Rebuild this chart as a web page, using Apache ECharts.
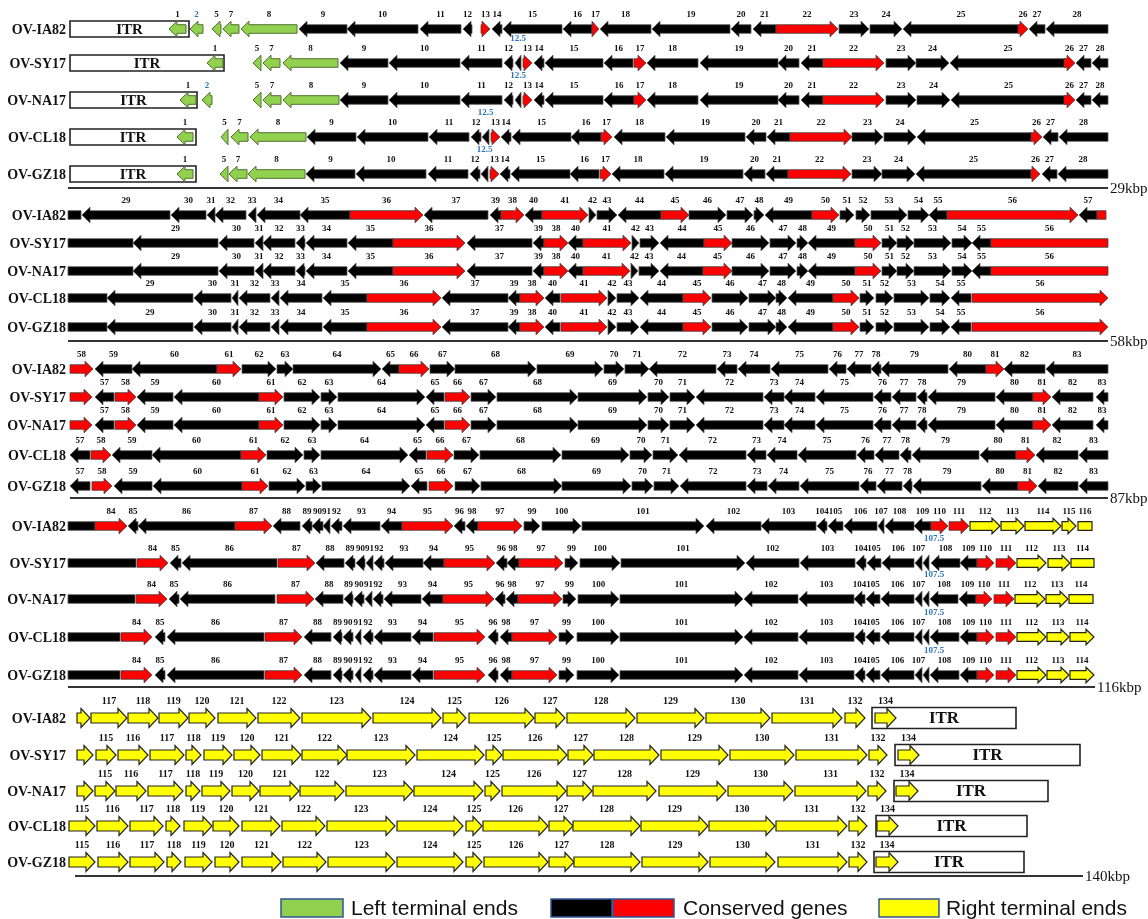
<!DOCTYPE html>
<html>
<head>
<meta charset="utf-8">
<script src="https://cdn.jsdelivr.net/npm/echarts@6/dist/echarts.min.js"></script>
<style>
  html, body { margin: 0; padding: 0; background: #fff; }
  #chart { width: 1148px; height: 919px; }
</style>
</head>
<body>
<div id="chart"></div>
<script>
"use strict";
// genome names and scale marks
const names = ['OV-IA82', 'OV-SY17', 'OV-NA17', 'OV-CL18', 'OV-GZ18'];
const kbpTicks = ['29kbp', '58kbp', '87kbp', '116kbp', '140kbp'];

// gene = [label, start, end, kind]  kind: colour g/k/r/y + L/R (strand) or B (partial, no head)
// block 1 (0-29 kbp)
const b1_IA82 = [['1',169,186,'gL'],['2',190,203,'gL'],['5',212,221,'gL'],['7',223,239,'gL'],['8',241,297,'gL'],
  ['9',299,347,'kL'],['10',347,418,'kL'],['11',420,461,'kL'],['12',463,472,'kL'],['13',481,490,'rR'],['14',492,502,'kL'],
  ['15',503,562,'kL'],['16',563,592,'kL'],['17',592,599,'rR'],['18',600,651,'kL'],['19',652,730,'kL'],['20',731,751,'kL'],
  ['21',753,776,'kL'],['22',776,838,'rR'],['23',839,869,'kR'],['24',870,902,'kR'],['25',903,1019,'kL'],['26',1018,1028,'rR'],
  ['27',1029,1045,'kL'],['28',1046,1108,'kL']];
const b1_SY17 = [['1',207,223,'gL'],['5',253,261,'gL'],['7',263,280,'gL'],['8',283,338,'gL'],['9',340,388,'kL'],
  ['10',389,460,'kL'],['11',461,502,'kL'],['12',504,513,'kL'],['12.5',515,521,'kL'],['13',523,532,'rR'],['14',534,544,'kL'],
  ['15',545,603,'kL'],['16',604,633,'kL'],['17',634,646,'rR'],['18',647,698,'kL'],['19',700,778,'kL'],['20',778,799,'kL'],
  ['21',801,823,'kL'],['22',823,884,'rR'],['23',886,916,'kR'],['24',916,949,'kR'],['25',950,1066,'kL'],['26',1064,1075,'rR'],
  ['27',1076,1091,'kL'],['28',1092,1108,'kL']];
const b1_NA17 = [['1',180,196,'gL'],['2',202,212,'gL'],['5',253,261,'gL'],['7',263,281,'gL'],['8',283,339,'gL'],
  ['9',340,388,'kL'],['10',389,460,'kL'],['11',461,502,'kL'],['12',504,513,'kL'],['12.5',515,521,'kL'],['13',523,532,'rR'],
  ['14',534,544,'kL'],['15',545,603,'kL'],['16',604,634,'kL'],['17',634,646,'rR'],['18',647,698,'kL'],['19',700,778,'kL'],
  ['20',778,799,'kL'],['21',801,823,'kL'],['22',823,884,'rR'],['23',886,916,'kR'],['24',917,950,'kR'],['25',951,1066,'kL'],
  ['26',1064,1075,'rR'],['27',1076,1091,'kL'],['28',1092,1108,'kL']];
const b1_CL18 = [['1',177,193,'gL'],['5',221,228,'gL'],['7',231,248,'gL'],['8',250,306,'gL'],['9',307,356,'kL'],
  ['10',357,428,'kL'],['11',429,469,'kL'],['12',471,481,'kL'],['12.5',482,489,'kL'],['13',491,500,'rR'],['14',501,511,'kL'],
  ['15',512,571,'kL'],['16',571,601,'kL'],['17',601,612,'rR'],['18',614,665,'kL'],['19',666,745,'kL'],['20',746,766,'kL'],
  ['21',767,790,'kL'],['22',790,852,'rR'],['23',852,883,'kR'],['24',884,916,'kR'],['25',917,1032,'kL'],['26',1031,1042,'rR'],
  ['27',1043,1058,'kL'],['28',1059,1108,'kL']];
const b1_GZ18 = [['1',177,193,'gL'],['5',220,228,'gL'],['7',229,247,'gL'],['8',248,305,'gL'],['9',306,355,'kL'],
  ['10',356,426,'kL'],['11',428,468,'kL'],['12',470,480,'kL'],['12.5',481,488,'kL'],['13',490,499,'rR'],['14',500,510,'kL'],
  ['15',511,570,'kL'],['16',570,599,'kL'],['17',600,611,'rR'],['18',612,664,'kL'],['19',665,743,'kL'],['20',744,765,'kL'],
  ['21',766,788,'kL'],['22',788,851,'rR'],['23',852,882,'kR'],['24',882,915,'kR'],['25',916,1031,'kL'],['26',1031,1040,'rR'],
  ['27',1042,1057,'kL'],['28',1058,1108,'kL']];

// block 2 (29-58 kbp)
const b2_IA82 = [['',68,81,'kB'],['29',82,170,'kL'],['30',171,206,'kL'],['31',207,215,'kL'],['32',215,246,'kL'],['33',248,256,'kL'],
  ['34',257,300,'kL'],['35',300,350,'kL'],['36',350,423,'rR'],['37',424,488,'kL'],['39',490,501,'kL'],['38',501,524,'rR'],
  ['40',525,542,'kL'],['41',542,588,'rR'],['42',589,596,'kR'],['43',597,617,'kR'],['44',618,661,'kL'],['45',661,689,'rR'],
  ['46',689,726,'kR'],['47',727,753,'kR'],['48',754,764,'kR'],['49',765,812,'kL'],['50',812,839,'rR'],['51',840,854,'kR'],
  ['52',856,870,'kR'],['53',871,907,'kR'],['54',908,929,'kR'],['55',929,947,'kL'],['56',947,1078,'rR'],['57',1079,1097,'kL'],
  ['',1097,1106,'rB']];
const b2_SY17 = [['',68,133,'kB'],['29',133,218,'kL'],['30',219,254,'kL'],['31',255,263,'kL'],['32',263,295,'kL'],['33',296,305,'kL'],
  ['34',306,347,'kL'],['35',348,393,'kL'],['36',393,465,'rR'],['37',467,532,'kL'],['39',533,544,'kL'],['38',544,568,'rR'],
  ['40',568,583,'kL'],['41',583,631,'rR'],['42',632,639,'kR'],['43',640,659,'kR'],['44',660,704,'kL'],['45',704,732,'rR'],
  ['46',732,769,'kR'],['47',770,796,'kR'],['48',797,808,'kR'],['49',808,855,'kL'],['50',855,881,'rR'],['51',882,897,'kR'],
  ['52',897,914,'kR'],['53',914,951,'kR'],['54',952,972,'kR'],['55',972,991,'kL'],['56',991,1108,'rB']];
const b2_NA17 = [['',68,133,'kB'],['29',133,218,'kL'],['30',219,254,'kL'],['31',255,263,'kL'],['32',263,295,'kL'],['33',296,305,'kL'],
  ['34',306,347,'kL'],['35',348,393,'kL'],['36',393,465,'rR'],['37',467,532,'kL'],['39',533,544,'kL'],['38',544,568,'rR'],
  ['40',568,583,'kL'],['41',583,630,'rR'],['42',631,638,'kR'],['43',639,659,'kR'],['44',660,703,'kL'],['45',703,732,'rR'],
  ['46',732,769,'kR'],['47',770,796,'kR'],['48',797,808,'kR'],['49',808,855,'kL'],['50',855,881,'rR'],['51',882,897,'kR'],
  ['52',897,914,'kR'],['53',914,951,'kR'],['54',952,972,'kR'],['55',972,991,'kL'],['56',991,1108,'rB']];
const b2_CL18 = [['',68,107,'kB'],['29',107,193,'kL'],['30',194,231,'kL'],['31',232,238,'kL'],['32',239,270,'kL'],['33',271,279,'kL'],
  ['34',280,322,'kL'],['35',323,367,'kL'],['36',367,441,'rR'],['37',442,508,'kL'],['39',508,520,'kL'],['38',520,544,'rR'],
  ['40',545,560,'kL'],['41',561,607,'rR'],['42',608,616,'kR'],['43',617,639,'kR'],['44',640,683,'kL'],['45',683,711,'rR'],
  ['46',712,748,'kR'],['47',749,776,'kR'],['48',776,787,'kR'],['49',788,833,'kL'],['50',833,859,'rR'],['51',860,874,'kR'],
  ['52',876,893,'kR'],['53',894,929,'kR'],['54',930,950,'kR'],['55',951,971,'kL'],['56',972,1108,'rR']];
const b2_GZ18 = [['',68,107,'kB'],['29',107,193,'kL'],['30',194,231,'kL'],['31',232,238,'kL'],['32',239,270,'kL'],['33',271,279,'kL'],
  ['34',280,322,'kL'],['35',323,367,'kL'],['36',367,441,'rR'],['37',442,508,'kL'],['39',508,520,'kL'],['38',520,544,'rR'],
  ['40',545,560,'kL'],['41',561,607,'rR'],['42',608,616,'kR'],['43',617,639,'kR'],['44',640,683,'kL'],['45',683,711,'rR'],
  ['46',712,748,'kR'],['47',749,776,'kR'],['48',776,787,'kR'],['49',788,833,'kL'],['50',833,859,'rR'],['51',860,874,'kR'],
  ['52',876,893,'kR'],['53',894,929,'kR'],['54',930,950,'kR'],['55',951,971,'kL'],['56',972,1108,'rR']];

// block 3 (58-87 kbp)
const b3_IA82 = [['58',70,93,'rR'],['59',95,132,'kL'],['60',132,217,'kL'],['61',217,241,'rR'],['62',242,276,'kR'],['63',277,293,'kR'],
  ['64',293,381,'kR'],['65',382,399,'kL'],['66',399,429,'rR'],['67',430,455,'kR'],['68',455,536,'kR'],['69',537,603,'kR'],
  ['70',604,624,'kR'],['71',625,649,'kR'],['72',649,716,'kL'],['73',717,737,'kL'],['74',738,770,'kL'],['75',771,828,'kL'],
  ['76',829,846,'kL'],['77',847,871,'kL'],['78',871,881,'kL'],['79',881,948,'kL'],['80',949,986,'kL'],['81',986,1004,'rR'],
  ['82',1004,1045,'kL'],['83',1046,1108,'kL']];
const b3_SY17 = [['',70,92,'rR'],['57',95,114,'kL'],['58',115,136,'rR'],['59',137,173,'kL'],['60',174,259,'kL'],['61',259,283,'rR'],
  ['62',284,320,'kR'],['63',321,337,'kR'],['64',338,425,'kR'],['65',426,444,'kL'],['66',445,470,'rR'],['67',471,496,'kR'],
  ['68',497,578,'kR'],['69',578,647,'kR'],['70',648,669,'kR'],['71',670,695,'kR'],['72',696,763,'kL'],['73',764,784,'kL'],
  ['74',784,815,'kL'],['75',816,873,'kL'],['76',874,891,'kL'],['77',892,916,'kL'],['78',917,927,'kL'],['79',928,995,'kL'],
  ['80',996,1033,'kL'],['81',1033,1051,'rR'],['82',1052,1093,'kL'],['83',1096,1108,'kL']];
const b3_NA17 = [['',70,92,'rR'],['57',95,114,'kL'],['58',115,136,'rR'],['59',137,173,'kL'],['60',174,259,'kL'],['61',259,283,'rR'],
  ['62',284,320,'kR'],['63',321,337,'kR'],['64',338,425,'kR'],['65',426,444,'kL'],['66',445,470,'rR'],['67',471,496,'kR'],
  ['68',497,578,'kR'],['69',578,647,'kR'],['70',648,669,'kR'],['71',670,695,'kR'],['72',696,763,'kL'],['73',764,784,'kL'],
  ['74',784,815,'kL'],['75',816,873,'kL'],['76',874,891,'kL'],['77',892,916,'kL'],['78',917,927,'kL'],['79',928,995,'kL'],
  ['80',996,1033,'kL'],['81',1033,1051,'rR'],['82',1052,1093,'kL'],['83',1096,1108,'kL']];
const b3_CL18 = [['57',70,90,'kL'],['58',91,111,'rR'],['59',112,152,'kL'],['60',152,241,'kL'],['61',241,266,'rR'],['62',267,303,'kR'],
  ['63',304,320,'kR'],['64',321,408,'kR'],['65',409,426,'kL'],['66',427,453,'rR'],['67',454,479,'kR'],['68',480,561,'kR'],
  ['69',562,629,'kR'],['70',630,652,'kR'],['71',653,678,'kR'],['72',679,746,'kL'],['73',747,766,'kL'],['74',767,797,'kL'],
  ['75',798,856,'kL'],['76',857,874,'kL'],['77',875,899,'kL'],['78',900,911,'kL'],['79',912,979,'kL'],['80',980,1016,'kL'],
  ['81',1016,1035,'rR'],['82',1036,1078,'kL'],['83',1079,1108,'kL']];
const b3_GZ18 = [['57',70,90,'kL'],['58',92,112,'rR'],['59',114,152,'kL'],['60',153,242,'kL'],['61',242,268,'rR'],['62',269,305,'kR'],
  ['63',306,321,'kR'],['64',322,410,'kR'],['65',411,427,'kL'],['66',429,453,'rR'],['67',455,480,'kR'],['68',481,562,'kR'],
  ['69',562,631,'kR'],['70',632,653,'kR'],['71',654,679,'kR'],['72',680,746,'kL'],['73',747,767,'kL'],['74',768,799,'kL'],
  ['75',800,859,'kL'],['76',860,876,'kL'],['77',877,902,'kL'],['78',903,912,'kL'],['79',913,981,'kL'],['80',982,1018,'kL'],
  ['81',1018,1037,'rR'],['82',1038,1078,'kL'],['83',1079,1108,'kL']];

// block 4 (87-116 kbp)
const b4_IA82 = [['',68,95,'kB'],['84',95,127,'rR'],['85',128,138,'kL'],['86',138,235,'kL'],['87',235,272,'rR'],['88',273,300,'kL'],
  ['89',302,312,'kL'],['90',312,323,'kL'],['91',323,330,'kL'],['92',331,342,'kL'],['93',343,380,'kL'],['94',381,402,'kL'],
  ['95',402,453,'rR'],['96',454,465,'kL'],['98',466,478,'kL'],['97',478,522,'rR'],['99',524,540,'kR'],['100',542,581,'kR'],
  ['101',582,704,'kR'],['102',706,761,'kL'],['103',761,816,'kL'],['104',817,827,'kL'],['105',828,843,'kL'],['106',844,877,'kL'],
  ['107',878,884,'kL'],['108',885,914,'kL'],['109',914,931,'kL'],['110',931,948,'rR'],['111',949,969,'rR'],['112',970,1000,'yR'],
  ['113',1001,1024,'yR'],['114',1025,1061,'yR'],['115',1062,1076,'yR'],['116',1078,1092,'yB']];
const b4_SY17 = [['',68,136,'kB'],['84',137,168,'rR'],['85',170,181,'kL'],['86',182,277,'kL'],['87',278,315,'rR'],['88',316,344,'kL'],
  ['89',345,355,'kL'],['90',356,365,'kL'],['91',366,373,'kL'],['92',374,384,'kL'],['93',385,423,'kL'],['94',423,444,'kL'],
  ['95',444,495,'rR'],['96',496,507,'kL'],['98',507,519,'kL'],['97',519,563,'rR'],['99',565,578,'kR'],['100',580,620,'kR'],
  ['101',621,745,'kR'],['102',746,799,'kL'],['103',800,855,'kL'],['104',856,866,'kL'],['105',867,881,'kL'],['106',882,914,'kL'],
  ['107',915,922,'kL'],['107.5',923,929,'kL'],['108',931,960,'kL'],['109',960,977,'kL'],['110',977,994,'rR'],['111',996,1016,'rR'],
  ['112',1017,1046,'yR'],['113',1048,1070,'yR'],['114',1071,1094,'yB']];
const b4_NA17 = [['',68,135,'kB'],['84',136,167,'rR'],['85',169,179,'kL'],['86',180,275,'kL'],['87',277,314,'rR'],['88',315,343,'kL'],
  ['89',344,353,'kL'],['90',354,364,'kL'],['91',365,372,'kL'],['92',373,383,'kL'],['93',384,421,'kL'],['94',422,443,'kL'],
  ['95',443,494,'rR'],['96',495,505,'kL'],['98',506,518,'kL'],['97',518,562,'rR'],['99',563,576,'kR'],['100',578,619,'kR'],
  ['101',620,743,'kR'],['102',744,798,'kL'],['103',799,854,'kL'],['104',854,865,'kL'],['105',866,880,'kL'],['106',881,914,'kL'],
  ['107',915,922,'kL'],['107.5',923,929,'kL'],['108',930,958,'kL'],['109',959,976,'kL'],['110',976,992,'rR'],['111',994,1014,'rR'],
  ['112',1015,1045,'yR'],['113',1046,1068,'yR'],['114',1069,1093,'yB']];
const b4_CL18 = [['',68,120,'kB'],['84',121,152,'rR'],['85',155,165,'kL'],['86',167,264,'kL'],['87',265,302,'rR'],['88',304,331,'kL'],
  ['89',333,342,'kL'],['90',343,353,'kL'],['91',355,361,'kL'],['92',363,373,'kL'],['93',374,411,'kL'],['94',412,433,'kL'],
  ['95',434,485,'rR'],['96',488,498,'kL'],['98',500,512,'kL'],['97',512,557,'rR'],['99',559,574,'kR'],['100',577,619,'kR'],
  ['101',620,743,'kR'],['102',744,798,'kL'],['103',799,854,'kL'],['104',855,865,'kL'],['105',866,880,'kL'],['106',881,914,'kL'],
  ['107',915,922,'kL'],['107.5',923,929,'kL'],['108',930,959,'kL'],['109',960,977,'kL'],['110',977,994,'rR'],['111',996,1016,'rR'],
  ['112',1017,1046,'yR'],['113',1047,1069,'yR'],['114',1070,1094,'yR']];
const b4_GZ18 = [['',68,120,'kB'],['84',121,152,'rR'],['85',155,165,'kL'],['86',167,264,'kL'],['87',265,302,'rR'],['88',304,331,'kL'],
  ['89',333,342,'kL'],['90',343,353,'kL'],['91',355,361,'kL'],['92',363,373,'kL'],['93',374,411,'kL'],['94',412,433,'kL'],
  ['95',434,485,'rR'],['96',488,498,'kL'],['98',500,512,'kL'],['97',512,557,'rR'],['99',559,574,'kR'],['100',577,619,'kR'],
  ['101',620,743,'kR'],['102',744,798,'kL'],['103',799,854,'kL'],['104',855,865,'kL'],['105',866,880,'kL'],['106',881,914,'kL'],
  ['107',915,922,'kL'],['107.5',923,929,'kL'],['108',930,959,'kL'],['109',960,977,'kL'],['110',977,994,'rR'],['111',996,1016,'rR'],
  ['112',1017,1046,'yR'],['113',1047,1069,'yR'],['114',1070,1094,'yR']];

// block 5 (116-140 kbp)
const b5_IA82 = [['',77,90,'yR'],['117',91,127,'yR'],['118',128,158,'yR'],['119',159,188,'yR'],['120',189,215,'yR'],['121',218,256,'yR'],
  ['122',258,300,'yR'],['123',302,371,'yR'],['124',373,441,'yR'],['125',443,466,'yR'],['126',469,534,'yR'],['127',535,565,'yR'],
  ['128',567,635,'yR'],['129',637,704,'yR'],['130',706,770,'yR'],['131',772,842,'yR'],['132',845,865,'yR'],['134',875,896,'yR']];
const b5_SY17 = [['',77,93,'yR'],['115',96,116,'yR'],['116',118,148,'yR'],['117',150,184,'yR'],['118',186,201,'yR'],['119',204,232,'yR'],
  ['120',234,260,'yR'],['121',262,301,'yR'],['122',302,347,'yR'],['123',347,415,'yR'],['124',417,484,'yR'],['125',486,502,'yR'],
  ['126',503,567,'yR'],['127',568,593,'yR'],['128',594,659,'yR'],['129',661,728,'yR'],['130',730,794,'yR'],['131',796,867,'yR'],
  ['132',869,887,'yR'],['134',898,919,'yR']];
const b5_NA17 = [['',77,93,'yR'],['115',95,115,'yR'],['116',116,146,'yR'],['117',148,183,'yR'],['118',186,200,'yR'],['119',202,230,'yR'],
  ['120',232,259,'yR'],['121',260,299,'yR'],['122',300,344,'yR'],['123',346,413,'yR'],['124',414,483,'yR'],['125',485,500,'yR'],
  ['126',502,566,'yR'],['127',567,592,'yR'],['128',593,656,'yR'],['129',659,726,'yR'],['130',728,793,'yR'],['131',795,866,'yR'],
  ['132',868,886,'yR'],['134',896,918,'yR']];
const b5_CL18 = [['115',69,95,'yR'],['116',97,128,'yR'],['117',130,163,'yR'],['118',166,180,'yR'],['119',184,212,'yR'],['120',213,239,'yR'],
  ['121',242,280,'yR'],['122',282,325,'yR'],['123',327,395,'yR'],['124',397,463,'yR'],['125',466,482,'yR'],['126',483,548,'yR'],
  ['127',549,573,'yR'],['128',573,640,'yR'],['129',641,708,'yR'],['130',709,775,'yR'],['131',776,847,'yR'],['132',849,867,'yR'],
  ['134',877,898,'yR']];
const b5_GZ18 = [['115',69,95,'yR'],['116',98,128,'yR'],['117',130,164,'yR'],['118',167,181,'yR'],['119',185,212,'yR'],['120',215,239,'yR'],
  ['121',242,281,'yR'],['122',283,326,'yR'],['123',328,395,'yR'],['124',397,463,'yR'],['125',466,482,'yR'],['126',484,548,'yR'],
  ['127',549,574,'yR'],['128',574,640,'yR'],['129',642,708,'yR'],['130',710,775,'yR'],['131',778,847,'yR'],['132',849,867,'yR'],
  ['134',876,898,'yR']];

// ITR boxes (left ones start at the genome start)
const itrLeftEnd = [189, 224, 197, 196, 196];
const itrRightStart = [872, 895, 894, 876, 874];
const itrRightEnd = [1016, 1080, 1048, 1027, 1024];

// layout
const rowY = [
  [29, 63, 100, 137, 174],
  [215, 243, 271, 298, 327],
  [369, 397, 425, 455, 486],
  [526, 563, 599, 637, 675],
  [718, 755, 791, 826, 862]
];
const lineY = [188, 341, 498, 687, 876];
const lineX = [[68, 1108], [68, 1108], [70, 1108], [68, 1095], [75, 1083]];

const blockRows = [
  [b1_IA82, b1_SY17, b1_NA17, b1_CL18, b1_GZ18],
  [b2_IA82, b2_SY17, b2_NA17, b2_CL18, b2_GZ18],
  [b3_IA82, b3_SY17, b3_NA17, b3_CL18, b3_GZ18],
  [b4_IA82, b4_SY17, b4_NA17, b4_CL18, b4_GZ18],
  [b5_IA82, b5_SY17, b5_NA17, b5_CL18, b5_GZ18]
];

const COLORS = {
  g: { fill: '#92D050', stroke: '#4f7330', lw: 1 },
  k: { fill: '#000000', stroke: '#555555', lw: 0.8 },
  r: { fill: '#FF0000', stroke: '#444444', lw: 0.8 },
  y: { fill: '#FFFF00', stroke: '#222222', lw: 1.2 }
};
const BLUE = '#2E75B6';
const SERIF = '"Liberation Serif", "Times New Roman", serif';

const genes = [];
blockRows.forEach((rows, bi) => {
  rows.forEach((row, ri) => {
    row.forEach(g => {
      genes.push({ label: g[0], s: g[1], e: g[2], kind: g[3], y: rowY[bi][ri], big: bi === 4 });
    });
  });
});

const rowNames = [];
rowY.forEach(ys => ys.forEach((y, ri) => rowNames.push({ name: names[ri], y: y })));

const itrs = [];
itrLeftEnd.forEach((x2, i) => itrs.push({ s: 70, e: x2, y: rowY[0][i], big: false }));
itrRightStart.forEach((x1, i) => itrs.push({ s: x1, e: itrRightEnd[i], y: rowY[4][i], big: true }));

function arrowPoints(x1, x2, y, dir, big) {
  const bh = big ? 5 : 4.3, hh = big ? 9.5 : 7.8, hl = big ? 9 : 8;
  const h = Math.min(hl, x2 - x1);
  if (dir === 'R') {
    return [[x1, y - bh], [x2 - h, y - bh], [x2 - h, y - hh], [x2, y], [x2 - h, y + hh], [x2 - h, y + bh], [x1, y + bh]];
  }
  if (dir === 'L') {
    return [[x2, y - bh], [x1 + h, y - bh], [x1 + h, y - hh], [x1, y], [x1 + h, y + hh], [x1 + h, y + bh], [x2, y + bh]];
  }
  return [[x1, y - bh], [x2, y - bh], [x2, y + bh], [x1, y + bh]];
}

const chart = echarts.init(document.getElementById('chart'), null, { renderer: 'canvas' });

const option = {
  animation: false,
  backgroundColor: '#ffffff',
  grid: { left: 0, right: 0, top: 0, bottom: 0 },
  xAxis: { type: 'value', min: 0, max: 1148, show: false },
  yAxis: { type: 'value', min: 0, max: 919, inverse: true, show: false },
  series: [
    {
      // ITR boxes
      type: 'custom',
      z: 1,
      clip: false,
      data: itrs.map(t => [t.s, t.e, t.y]),
      renderItem: function (params, api) {
        const t = itrs[params.dataIndex];
        const a = api.coord([api.value(0), api.value(2)]);
        const b = api.coord([api.value(1), api.value(2)]);
        const hh = t.big ? 10.5 : 8;
        return {
          type: 'group',
          children: [
            {
              type: 'rect',
              shape: { x: a[0], y: a[1] - hh, width: b[0] - a[0], height: hh * 2 },
              style: { fill: '#ffffff', stroke: '#222222', lineWidth: 1.6 }
            },
            {
              type: 'text',
              x: (a[0] + b[0]) / 2,
              y: a[1] + 1,
              style: {
                text: 'ITR', fill: '#111',
                font: 'bold ' + (t.big ? 17 : 15) + 'px ' + SERIF,
                align: 'center', verticalAlign: 'middle'
              }
            }
          ]
        };
      }
    },
    {
      // genes
      type: 'custom',
      z: 2,
      clip: false,
      data: genes.map(g => [g.s, g.e, g.y]),
      renderItem: function (params, api) {
        const g = genes[params.dataIndex];
        const a = api.coord([api.value(0), api.value(2)]);
        const b = api.coord([api.value(1), api.value(2)]);
        const c = COLORS[g.kind[0]];
        const dir = g.kind[1];
        const isBlue = g.label === '2' || g.label === '12.5' || g.label === '107.5';
        const raise = (g.label === '12.5' || g.label === '107.5') ? 10 : 0;
        const shift = g.label === '107.5' ? 8 : 0;
        const children = [{
          type: 'polygon',
          shape: { points: arrowPoints(a[0], b[0], a[1], dir, g.big) },
          style: { fill: c.fill, stroke: c.stroke, lineWidth: c.lw }
        }];
        if (g.label) {
          children.push({
            type: 'text',
            x: (a[0] + b[0]) / 2 + shift,
            y: a[1] - (g.big ? 17 : 14) - raise,
            style: {
              text: g.label,
              fill: isBlue ? BLUE : '#111',
              font: 'bold ' + (g.big ? 10 : 9) + 'px ' + SERIF,
              align: 'center', verticalAlign: 'middle'
            }
          });
        }
        return { type: 'group', children: children };
      }
    },
    {
      // genome names
      type: 'custom',
      z: 3,
      clip: false,
      data: rowNames.map(r => [66, r.y]),
      renderItem: function (params, api) {
        const p = api.coord([api.value(0), api.value(1)]);
        return {
          type: 'text',
          x: p[0],
          y: p[1] + 1,
          style: {
            text: rowNames[params.dataIndex].name, fill: '#111',
            font: 'bold 14px ' + SERIF, align: 'right', verticalAlign: 'middle'
          }
        };
      }
    },
    {
      // block separators with kbp marks
      type: 'custom',
      z: 1,
      clip: false,
      data: lineX.map((lx, i) => [lx[0], lx[1], lineY[i]]),
      renderItem: function (params, api) {
        const a = api.coord([api.value(0), api.value(2)]);
        const b = api.coord([api.value(1), api.value(2)]);
        return {
          type: 'group',
          children: [
            {
              type: 'line',
              shape: { x1: a[0], y1: a[1], x2: b[0], y2: b[1] },
              style: { stroke: '#333333', lineWidth: 2 }
            },
            {
              type: 'text',
              x: b[0] + 2,
              y: b[1] + 1,
              style: {
                text: kbpTicks[params.dataIndex], fill: '#111',
                font: '15px ' + SERIF, align: 'left', verticalAlign: 'middle'
              }
            }
          ]
        };
      }
    }
  ],
  graphic: [
    { type: 'rect', shape: { x: 281, y: 899, width: 62, height: 18 }, style: { fill: '#92D050', stroke: '#2F5597', lineWidth: 1.5 } },
    { type: 'text', x: 351, y: 909, style: { text: 'Left terminal ends', font: '21px "Liberation Sans", Arial, sans-serif', fill: '#111', verticalAlign: 'middle' } },
    { type: 'rect', shape: { x: 551, y: 899, width: 61, height: 18 }, style: { fill: '#000000', stroke: '#2F5597', lineWidth: 1.5 } },
    { type: 'rect', shape: { x: 613, y: 899, width: 61, height: 18 }, style: { fill: '#FF0000', stroke: '#2F5597', lineWidth: 1.5 } },
    { type: 'text', x: 683, y: 909, style: { text: 'Conserved genes', font: '21px "Liberation Sans", Arial, sans-serif', fill: '#111', verticalAlign: 'middle' } },
    { type: 'rect', shape: { x: 879, y: 899, width: 60, height: 18 }, style: { fill: '#FFFF00', stroke: '#2F5597', lineWidth: 1.5 } },
    { type: 'text', x: 946, y: 909, style: { text: 'Right terminal ends', font: '21px "Liberation Sans", Arial, sans-serif', fill: '#111', verticalAlign: 'middle' } }
  ]
};

chart.setOption(option);
</script>
</body>
</html>
